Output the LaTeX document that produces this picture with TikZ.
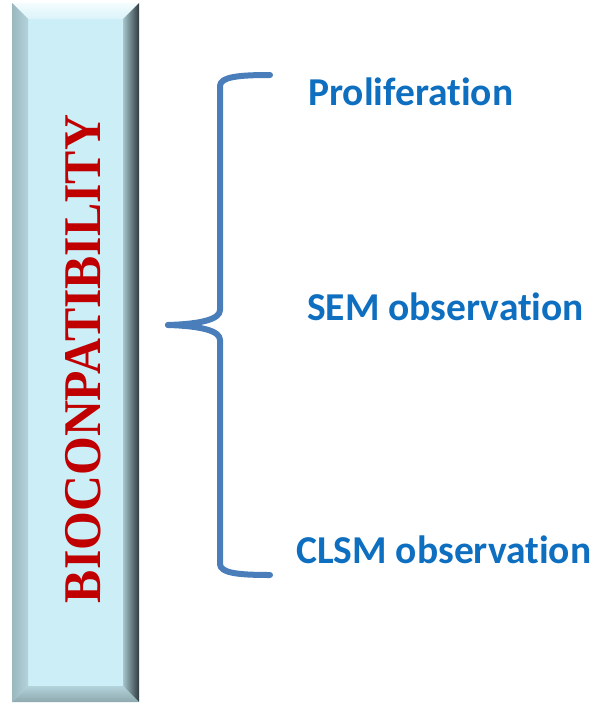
\documentclass[tikz,border=0pt]{standalone}
\usepackage{fontspec}
\setmainfont{Liberation Serif}
\newfontfamily\labelfont[Ligatures=NoCommon]{Carlito}
\definecolor{facecol}{HTML}{CBEEF7}
\definecolor{rimlight}{HTML}{F4FCFE}
\definecolor{rimside}{HTML}{8EA9AF}
\definecolor{rimdark}{HTML}{2E3B40}
\definecolor{titlered}{HTML}{C00000}
\definecolor{itemblue}{HTML}{0E6EC0}
\definecolor{bracecol}{HTML}{4A7EBB}
\tikzset{
 item/.style={anchor=base west,inner sep=0pt,text=itemblue,font=\labelfont\bfseries\fontsize{39.5}{39.5}\selectfont},
 bracestroke/.style={draw=bracecol,line width=6pt,line cap=round,line join=round}
}
\begin{document}
\begin{tikzpicture}[x=1pt,y=-1pt]
 \useasboundingbox (0,0) rectangle (598,704);
 \fill[facecol](12,3) rectangle (139,702);
 \shade[top color=rimlight,bottom color=facecol!70!white](12,3)--(139,3)--(123,19)--(28,19)--cycle;
 \shade[left color=rimside!80!facecol,right color=rimside!40!facecol](12,3)--(28,19)--(28,686)--(12,702)--cycle;
 \shade[left color=rimside!60!facecol,right color=rimdark](139,3)--(123,19)--(123,686)--(139,702)--cycle;
 \shade[top color=rimside!40!facecol,bottom color=rimside](12,702)--(28,686)--(123,686)--(139,702)--cycle;
 \node[rotate=90,text=titlered,inner sep=0pt] (title) at (83.5,359)
  {\scalebox{0.94}[1]{\fontsize{53}{53}\selectfont\bfseries BIOCONPATIBILITY}};
 \node[item] (prolif) at (308,105) {Proliferation};
 \node[item] (sem) at (307,320) {SEM observation};
 \node[item] (clsm) at (296,563) {CLSM observation};
 \coordinate (top) at (270,75);
 \coordinate (tip) at (168,325);
 \coordinate (bottom) at (270,575);
 \draw[bracestroke](top) .. controls (238,75) and (220,77) .. (220,86) -- (220,310)
  .. controls (220,319) and (202,324) .. (tip);
 \draw[bracestroke](tip) .. controls (202,326) and (220,331) .. (220,340) -- (220,564)
  .. controls (220,573) and (238,575) .. (bottom);
\end{tikzpicture}
\end{document}
